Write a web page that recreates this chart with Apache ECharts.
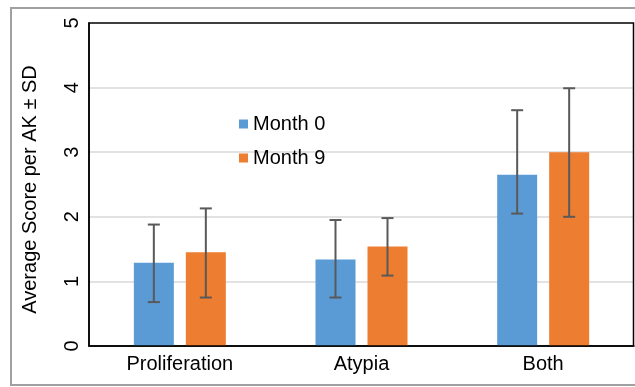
<!DOCTYPE html>
<html>
<head>
<meta charset="utf-8">
<script src="https://cdn.jsdelivr.net/npm/echarts@6/dist/echarts.min.js"></script>
<style>html,body{margin:0;padding:0;background:#fff;}#c{width:635px;height:387px;}</style>
</head>
<body>
<div id="c"></div>
<script>
const categories = ['Proliferation', 'Atypia', 'Both'];
const seriesNames = ['Month 0', 'Month 9'];
const month0 = [1.29, 1.34, 2.65];
const month9 = [1.45, 1.54, 3.0];
const month0Low = [0.68, 0.75, 2.05];
const month0High = [1.88, 1.95, 3.65];
const month9Low = [0.75, 1.09, 2.0];
const month9High = [2.13, 1.98, 3.99];
const yTicks = [0, 1, 2, 3, 4, 5];

const BAR_W = 40, BAR_GAP = 12;
const colors = ['#5b9bd5', '#ed7d31'];
const FONT = 'Liberation Sans, Arial, sans-serif';

function errSeries(low, high, side) {
  return {
    type: 'custom',
    silent: true,
    z: 5,
    data: categories.map((c, i) => [i, low[i], high[i]]),
    encode: { x: 0, y: [1, 2] },
    renderItem: function (params, api) {
      const ci = api.value(0);
      const off = side * (BAR_W + BAR_GAP) / 2;
      const x = api.coord([ci, 0])[0] + off;
      const yl = api.coord([ci, api.value(1)])[1];
      const yh = api.coord([ci, api.value(2)])[1];
      const st = { stroke: '#595959', lineWidth: 2 };
      return {
        type: 'group',
        children: [
          { type: 'line', shape: { x1: x, y1: yl, x2: x, y2: yh }, style: st },
          { type: 'line', shape: { x1: x - 6, y1: yl, x2: x + 6, y2: yl }, style: st },
          { type: 'line', shape: { x1: x - 6, y1: yh, x2: x + 6, y2: yh }, style: st }
        ]
      };
    }
  };
}

const chart = echarts.init(document.getElementById('c'), null, { renderer: 'canvas' });
chart.setOption({
  animation: false,
  textStyle: { fontFamily: FONT },
  graphic: [
    { type: 'rect', shape: { x: 11, y: 8, width: 640, height: 377 },
      style: { fill: 'none', stroke: '#a0a0a0', lineWidth: 2 }, z: -10 },
    { type: 'rect', shape: { x: 89, y: 23, width: 544.5, height: 323 },
      style: { fill: 'none', stroke: '#000', lineWidth: 1.5 }, z: 100, silent: true }
  ],
  grid: { left: 89, top: 23, right: 1, bottom: 41 },
  legend: {
    orient: 'vertical', left: 234, top: 109, itemWidth: 9, itemHeight: 9, itemGap: 14,
    icon: 'rect',
    textStyle: { fontSize: 20, color: '#000', fontFamily: FONT },
    data: seriesNames
  },
  xAxis: {
    type: 'category', data: categories,
    axisLine: { lineStyle: { color: '#000', width: 1.5 } },
    axisTick: { show: false },
    axisLabel: { fontSize: 20, color: '#000', margin: 8, fontFamily: FONT }
  },
  yAxis: {
    type: 'value', min: 0, max: 5, interval: 1,
    name: 'Average Score per AK ± SD', nameLocation: 'middle', nameGap: 49, nameRotate: 90,
    nameTextStyle: { fontSize: 20, color: '#000', fontFamily: FONT, padding: [0, 10, 0, 0] },
    axisLine: { show: true, lineStyle: { color: '#000', width: 1.5 } },
    axisTick: { show: false },
    axisLabel: { fontSize: 20, color: '#000', rotate: 90, margin: 7, fontFamily: FONT,
      formatter: v => yTicks.includes(v) ? String(v) : '' },
    splitLine: { showMaxLine: false, lineStyle: { color: '#d9d9d9', width: 1.5 } }
  },
  series: [
    { name: seriesNames[0], type: 'bar', data: month0, barWidth: BAR_W, barGap: (BAR_GAP / BAR_W * 100) + '%', itemStyle: { color: colors[0] } },
    { name: seriesNames[1], type: 'bar', data: month9, barWidth: BAR_W, barGap: (BAR_GAP / BAR_W * 100) + '%', itemStyle: { color: colors[1] } },
    errSeries(month0Low, month0High, -1),
    errSeries(month9Low, month9High, 1)
  ]
});
</script>
</body>
</html>
